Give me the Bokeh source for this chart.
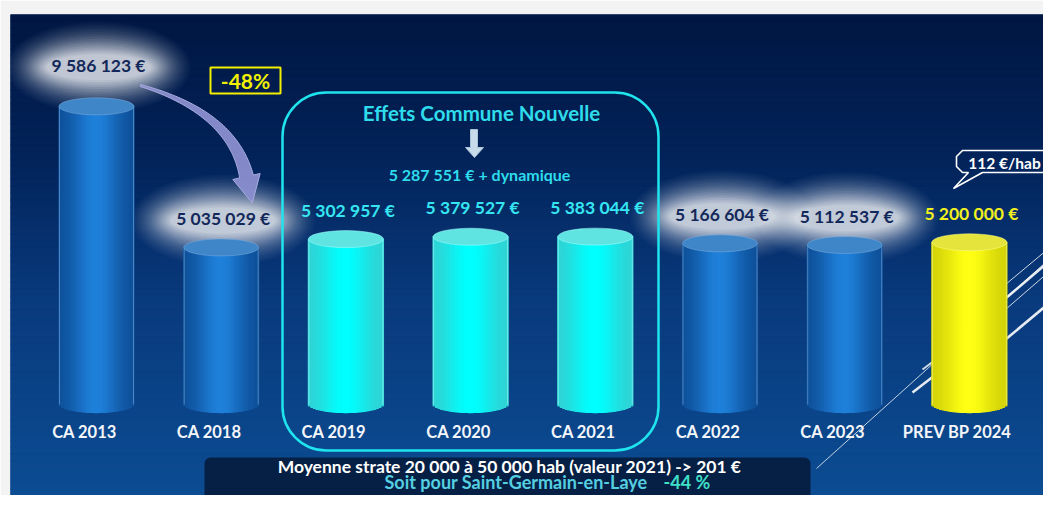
import numpy as np
from bokeh.plotting import figure
from bokeh.models import Range1d, BoxAnnotation
from bokeh.core.properties import value
from bokeh.embed import file_html
from bokeh.resources import INLINE

# ---------------- data ----------------
categories = ["CA 2013", "CA 2018", "CA 2019", "CA 2020", "CA 2021",
              "CA 2022", "CA 2023", "PREV BP 2024"]
amounts = [9586123, 5035029, 5302957, 5379527, 5383044, 5166604, 5112537, 5200000]
amount_labels = ["9 586 123 €", "5 035 029 €", "5 302 957 €", "5 379 527 €",
                 "5 383 044 €", "5 166 604 €", "5 112 537 €", "5 200 000 €"]
groups = ["base", "base", "commune", "commune", "commune", "base", "base", "forecast"]

box_title = "Effets Commune Nouvelle"
box_note = "5 287 551 € + dynamique"
drop_label = "-48%"
per_hab_label = "112 €/hab"
footer_line1 = "Moyenne strate 20 000 à 50 000 hab (valeur 2021) -> 201 €"
footer_line2a = "Soit pour Saint-Germain-en-Laye"
footer_line2b = "-44 %"

# ---------------- geometry helpers ----------------
W, H = 1043, 495
FL, FT, FR, FB = 10, 14, W, H            # frame edges in figure pixels
X0, DX = 96.0, 124.7                     # px of first category, spacing
Y0, PPM = 403.0, 31.0                    # px of zero, px per million


def dx(px):
    return (np.asarray(px, dtype=float) - X0) / DX


def dy(py):
    return (Y0 - np.asarray(py, dtype=float)) / PPM * 1e6


def hx(px):
    return px / DX


def hy(px):
    return px / PPM * 1e6


FONT = value("Lato")

p = figure(width=W, height=H, x_range=Range1d(float(dx(FL)), float(dx(FR))),
           y_range=Range1d(float(dy(FB)), float(dy(FT))),
           output_backend="svg", toolbar_location=None,
           x_axis_location=None, y_axis_location=None,
           min_border_left=FL, min_border_top=FT, min_border_right=0, min_border_bottom=0)
p.grid.visible = False
p.outline_line_color = None
p.border_fill_color = "#f3f3f3"
p.background_fill_color = "#0a3a7a"


def hex2rgb(h):
    h = h.lstrip("#")
    return np.array([int(h[i:i + 2], 16) for i in (0, 2, 4)], dtype=float)


def rgb2hex(c):
    c = np.clip(np.round(c), 0, 255).astype(int)
    return "#%02x%02x%02x" % tuple(c)


def grad(stops, pos):
    ps = [s[0] for s in stops]
    cs = [hex2rgb(s[1]) for s in stops]
    out = []
    for v in pos:
        c = np.array([np.interp(v, ps, [cc[k] for cc in cs]) for k in range(3)])
        out.append(rgb2hex(c))
    return out


# ---------------- background ----------------
nb = 70
edges = np.linspace(FT, FB, nb + 1)
mids = (edges[:-1] + edges[1:]) / 2
bg_cols = grad([(FT, "#011642"), (150, "#022258"), (300, "#093a7d"), (FB, "#0c4c92")], mids)
p.quad(left=float(dx(FL)), right=float(dx(FR)), top=dy(edges[:-1]), bottom=dy(edges[1:]),
       fill_color=bg_cols, line_color=bg_cols, level="image")

# footer panel
footer = BoxAnnotation(left=float(dx(204)), right=float(dx(810)), top=float(dy(457)),
                       bottom=float(dy(FB + 30)), fill_color="#06193a", fill_alpha=0.88,
                       line_color=None, line_alpha=0, border_radius=6, level="underlay")
p.add_layout(footer)

# ---------------- light streaks (behind bars) ----------------
streaks = [((816, 468), (1065, 244), 1.0, 0.75),
           ((1005, 284), (1065, 234), 1.0, 0.8),
           ((1005, 298), (1065, 247), 2.5, 0.9),
           ((1005, 309), (1065, 257), 1.0, 0.8),
           ((1005, 339), (1065, 289), 2.5, 0.9),
           ((912, 392), (934, 375), 2.5, 0.9),
           ((922, 369), (934, 360), 2.0, 0.8)]
for (a, b, lw, al) in streaks:
    p.line(x=dx([a[0], b[0]]), y=dy([a[1], b[1]]), line_color="white", line_width=lw, line_alpha=al)

# ---------------- glows behind dark labels ----------------
label_lift = np.array([29.0] * len(amounts))
label_lift[0] = 41.0
lab_y = np.array(amounts, dtype=float) + hy(label_lift)
xs = np.arange(len(amounts), dtype=float)

NG = 20
for i, g in enumerate(groups):
    if g != "base":
        continue
    for k in range(NG):
        s = k / (NG - 1)
        gw = 185 - 80 * s
        gh = 92 - 66 * s
        p.ellipse(x=xs[i] + hx(2), y=lab_y[i] - hy(2), width=hx(gw), height=hy(gh),
                  fill_color="white", fill_alpha=0.025 + 0.13 * s ** 2, line_color=None)

# ---------------- cylinders ----------------
style = {
    "base": dict(dark="#0d4c94", light="#1f80da", top="#3f86c9", rim="#7fb0e0", text="#13285a"),
    "commune": dict(dark="#35cfd0", light="#00ffff", top="#5fe4e2", rim="#a8ffff", text="#35e6f2"),
    "forecast": dict(dark="#cfcf08", light="#ffff14", top="#e4e43c", rim="#ffff90", text="#f2f01e"),
}
CW = 75.0          # cylinder width px
TOPH = 17.0        # top ellipse height px
BOTH = 9.0         # bottom curve depth px
NS = 30
for i, (amt, g) in enumerate(zip(amounts, groups)):
    st = style[g]
    t = (np.arange(NS) + 0.5) / NS
    f = np.exp(-((t - 0.5) / 0.32) ** 2)
    cols = [rgb2hex(hex2rgb(st["dark"]) * (1 - v) + hex2rgb(st["light"]) * v) for v in f]
    sx = xs[i] + (t - 0.5) * hx(CW)
    bottoms = -hy(BOTH) * np.sqrt(np.clip(1 - (2 * t - 1) ** 2, 0, 1))
    p.vbar(x=sx, width=hx(CW) / NS, top=amt, bottom=bottoms,
           fill_color=cols, line_color=cols, line_width=1.3)
    for side in (-0.5, 0.5):
        p.line(x=[xs[i] + side * hx(CW - 1)] * 2, y=[-hy(1), amt],
               line_color=st["rim"], line_alpha=0.55, line_width=1)
    p.ellipse(x=xs[i], y=amt, width=hx(CW), height=hy(TOPH),
              fill_color=st["top"], line_color=st["rim"], line_alpha=0.5, line_width=1)

# ---------------- value labels ----------------
for i, g in enumerate(groups):
    p.text(x=[xs[i] + hx(2)], y=[lab_y[i]], text=[amount_labels[i]], text_font=FONT,
           text_font_style="bold", text_font_size="17.5px", text_color=style[g]["text"],
           text_align="center", text_baseline="middle")

# category labels
p.text(x=xs - hx(12), y=float(dy(431)), text=categories, text_font=FONT,
       text_font_style="bold", text_font_size="16.5px", text_color="#f4f6fa",
       text_align="center", text_baseline="middle")

# ---------------- commune nouvelle box ----------------
box = BoxAnnotation(left=float(dx(282)), right=float(dx(658)), top=float(dy(92)),
                    bottom=float(dy(450)), fill_alpha=0, line_color="#1fe4ee", line_alpha=1.0,
                    line_width=2.5, border_radius=44)
p.add_layout(box)
p.text(x=[float(dx(481))], y=[float(dy(112))], text=[box_title], text_font=FONT,
       text_font_style="bold", text_font_size="20.5px", text_color="#2fdcec",
       text_align="center", text_baseline="middle")
arrow_px = [(470, 129), (477, 129), (477, 147), (483, 147), (474, 157), (465, 147), (470, 147)]
p.patch(x=dx([a[0] for a in arrow_px]), y=dy([a[1] for a in arrow_px]),
        fill_color="#c8dbea", line_color="#a9c3d8", line_width=1)
p.text(x=[float(dx(479))], y=[float(dy(174))], text=[box_note], text_font=FONT,
       text_font_style="bold", text_font_size="16px", text_color="#2fdcec",
       text_align="center", text_baseline="middle")

# ---------------- -48% box and curved arrow ----------------
p.quad(left=float(dx(210)), right=float(dx(280)), top=float(dy(67)), bottom=float(dy(93)),
       fill_alpha=0, line_color="#f2f000", line_width=2)
p.text(x=[float(dx(245))], y=[float(dy(80))], text=[drop_label], text_font=FONT,
       text_font_style="bold", text_font_size="21px", text_color="#f2f000",
       text_align="center", text_baseline="middle")

P0 = np.array([140.0, 85.0]); P1 = np.array([232.0, 112.0]); P2 = np.array([246.0, 176.0])
tt = np.linspace(0, 1, 50)[:, None]
pts = (1 - tt) ** 2 * P0 + 2 * (1 - tt) * tt * P1 + tt ** 2 * P2
tan = 2 * (1 - tt) * (P1 - P0) + 2 * tt * (P2 - P1)
tan = tan / np.linalg.norm(tan, axis=1)[:, None]
nrm = np.column_stack([-tan[:, 1], tan[:, 0]])
hw = (1.0 + 6.0 * tt[:, 0] ** 1.1)[:, None]
left = pts + nrm * hw
right = pts - nrm * hw
tip = pts[-1] + tan[-1] * 27
bl = pts[-1] + nrm[-1] * 14
br = pts[-1] - nrm[-1] * 14
poly = np.vstack([left, bl, tip, br, right[::-1]])
p.patch(x=dx(poly[:, 0]), y=dy(poly[:, 1]), fill_color="#8a8ecf", fill_alpha=0.95,
        line_color="#a9acdf", line_width=1)

# ---------------- speech bubble ----------------
bub = [(1050, 172), (982, 172), (953, 188), (968, 172), (962, 172), (956, 166),
       (956, 156), (962, 150), (1050, 150)]
p.line(x=dx([b[0] for b in bub]), y=dy([b[1] for b in bub]), line_color="white", line_width=1.6)
p.text(x=[float(dx(1004))], y=[float(dy(162))], text=[per_hab_label], text_font=FONT,
       text_font_style="bold", text_font_size="15.5px", text_color="white",
       text_align="center", text_baseline="middle")

# ---------------- footer texts ----------------
p.text(x=[float(dx(509))], y=[float(dy(466))], text=[footer_line1], text_font=FONT,
       text_font_style="bold", text_font_size="17.5px", text_color="white",
       text_align="center", text_baseline="middle")
p.text(x=[float(dx(647))], y=[float(dy(481))], text=[footer_line2a], text_font=FONT,
       text_font_style="bold", text_font_size="18px", text_color="#55cfe0",
       text_align="right", text_baseline="middle")
p.text(x=[float(dx(663))], y=[float(dy(481))], text=[footer_line2b], text_font=FONT,
       text_font_style="bold", text_font_size="18px", text_color="#3fe0c8",
       text_align="left", text_baseline="middle")

open("out.html", "w").write(file_html(p, INLINE))
